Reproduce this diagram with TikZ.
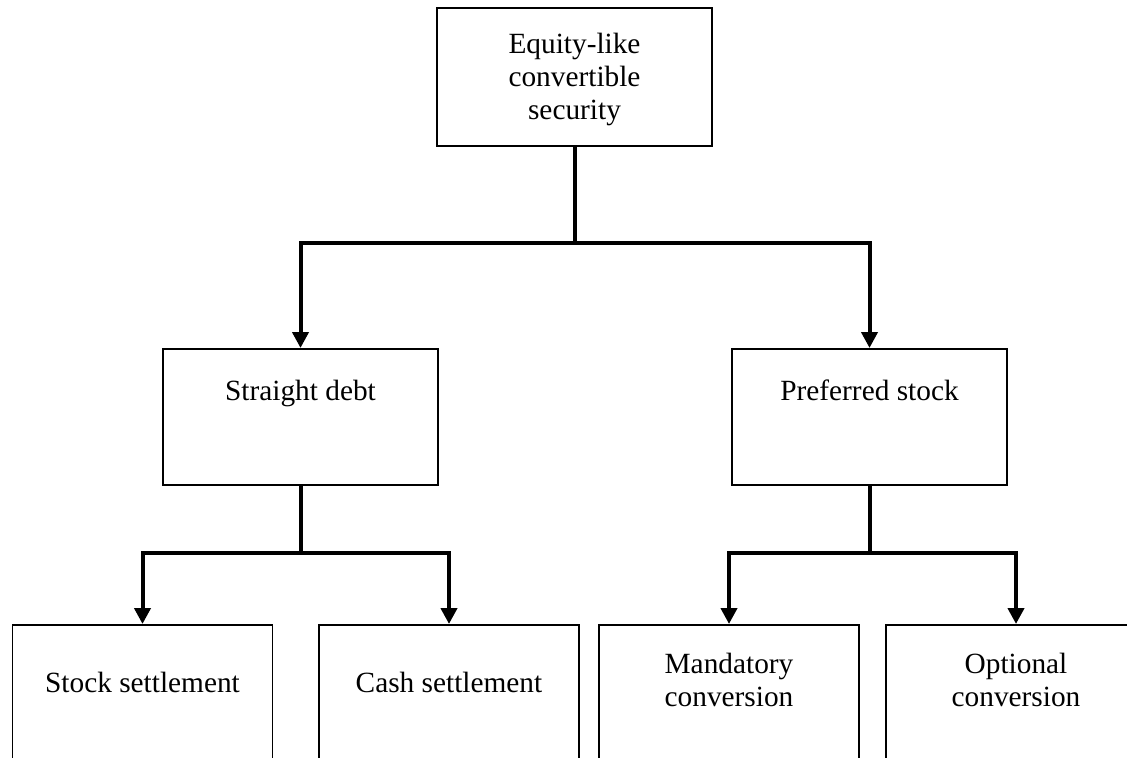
\documentclass[tikz,border=0pt]{standalone}
\usepackage{fontspec}
\setmainfont{Liberation Serif}
\usetikzlibrary{arrows.meta}

\begin{document}
\begin{tikzpicture}[x=0.75pt,y=0.75pt,yscale=-1,xscale=1,
  box/.style={draw, line width=1.4pt, inner sep=0pt, align=center, anchor=north,
    font=\fontsize{22}{25}\selectfont},
  wide/.style={minimum width=206.25pt},
  narrow/.style={minimum width=195pt},
  link/.style={line width=3pt},
  arrow/.style={link, -{Triangle[length=12pt,width=12pt]}}]
%set diagram to the page, the lowest boxes run past the bottom edge
\useasboundingbox (0,0) rectangle (1127,757);
\clip (0,0) rectangle (1127,757);

% Top box
\node [box, wide, text height=84pt, text depth=19.5pt] (eq) at (574.5,7) {Equity-like\\convertible\\security};
% Second row
\node [box, wide, text height=39pt, text depth=63pt] (sd) at (300.5,348) {Straight debt};
\node [box, wide, text height=39pt, text depth=63pt] (ps) at (869.5,348) {Preferred stock};
% Bottom row
\node [box, narrow, text height=51pt, text depth=81pt] (ss) at (142.5,624) {Stock settlement};
\node [box, narrow, text height=51pt, text depth=81pt] (cs) at (449,624) {Cash settlement};
\node [box, narrow, text height=61.5pt, text depth=70.5pt] (mc) at (729,624) {Mandatory\\conversion};
\node [box, narrow, text height=61.5pt, text depth=70.5pt] (oc) at (1016,624) {Optional\\conversion};

% Split points
\coordinate (split1) at (574.5,243);
\coordinate (split2) at (300.5,553);
\coordinate (split3) at (869.5,553);

%Straight Lines
\draw [link] (eq.south) -- (split1);
\draw [arrow] (split1) -| (sd.north);
\draw [arrow] (split1) -| (ps.north);
%Straight Lines
\draw [link] (sd.south) -- (split2);
\draw [arrow] (split2) -| (ss.north);
\draw [arrow] (split2) -| (cs.north);
%Straight Lines
\draw [link] (ps.south) -- (split3);
\draw [arrow] (split3) -| (mc.north);
\draw [arrow] (split3) -| (oc.north);

\end{tikzpicture}
\end{document}
